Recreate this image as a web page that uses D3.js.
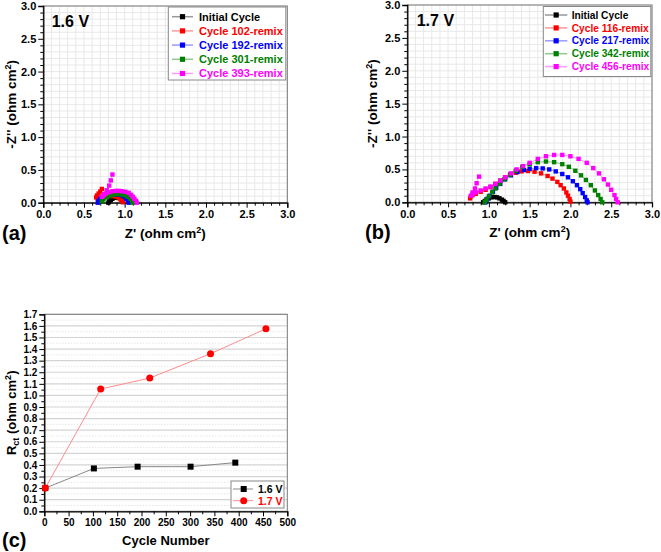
<!DOCTYPE html>
<html><head><meta charset="utf-8">
<script src="https://cdn.jsdelivr.net/npm/d3@7"></script>
<style>
html,body{margin:0;padding:0;background:#fff;}
text{font-family:"Liberation Sans",Arial,sans-serif;font-weight:bold;}
</style></head>
<body>
<svg id="c" width="661" height="552"></svg>
<script>
// ---------- DATA ----------
const colors = ["#000000","#ff0000","#0000ff","#008000","#ff00ff"];
const lineColors = ["#999999","#ff9a9a","#9a9aff","#8fc98f","#ff9aff"];

const namesA = ["Initial Cycle","Cycle 102-remix","Cycle 192-remix","Cycle 301-remix","Cycle 393-remix"];
const a_initial = [[0.80,0.0],[0.81,0.02],[0.83,0.04],[0.85,0.06],[0.88,0.075],[0.91,0.08],[0.94,0.07],[0.96,0.05],[0.97,0.03],[0.98,0.01]];
const a_c102 = [[0.72,0.21],[0.70,0.17],[0.68,0.14],[0.66,0.11],[0.65,0.08],[0.67,0.06],[0.70,0.07],[0.74,0.09],[0.78,0.10],[0.82,0.105],[0.86,0.10],[0.90,0.09],[0.93,0.07],[0.95,0.05],[0.97,0.03],[0.98,0.01]];
const a_c192 = [[0.67,0.0],[0.68,0.03],[0.70,0.06],[0.73,0.08],[0.77,0.10],[0.81,0.115],[0.85,0.12],[0.89,0.125],[0.93,0.12],[0.97,0.11],[1.00,0.09],[1.02,0.06],[1.04,0.03],[1.05,0.0]];
const a_c301 = [[0.72,0.02],[0.74,0.05],[0.77,0.08],[0.81,0.10],[0.85,0.12],[0.89,0.13],[0.93,0.13],[0.97,0.125],[1.01,0.11],[1.04,0.09],[1.07,0.06],[1.09,0.03],[1.10,0.0]];
const a_c393 = [[0.85,0.43],[0.83,0.34],[0.81,0.26],[0.78,0.19],[0.75,0.13],[0.72,0.09],[0.74,0.11],[0.77,0.14],[0.81,0.16],[0.85,0.175],[0.89,0.18],[0.93,0.18],[0.97,0.175],[1.01,0.165],[1.05,0.15],[1.08,0.12],[1.10,0.09],[1.12,0.06],[1.14,0.03],[1.15,0.0]];

const namesB = ["Initial Cycle","Cycle 116-remix","Cycle 217-remix","Cycle 342-remix","Cycle 456-remix"];
const b_initial = [[0.93,0.0],[0.95,0.02],[0.97,0.04],[1.00,0.06],[1.03,0.075],[1.07,0.08],[1.10,0.075],[1.13,0.06],[1.16,0.04],[1.18,0.02],[1.20,0.0]];
const b_c116 = [[0.77,0.06],[0.78,0.09],[0.80,0.11],[0.84,0.13],[0.90,0.16],[0.96,0.19],[1.02,0.23],[1.08,0.28],[1.14,0.33],[1.20,0.38],[1.26,0.42],[1.33,0.45],[1.40,0.47],[1.48,0.475],[1.56,0.465],[1.64,0.44],[1.72,0.40],[1.78,0.36],[1.84,0.31],[1.88,0.26],[1.92,0.21],[1.95,0.15],[1.97,0.10],[1.99,0.05],[2.00,0.01]];
const b_c217 = [[0.96,0.0],[0.98,0.05],[1.01,0.10],[1.05,0.16],[1.09,0.22],[1.14,0.28],[1.20,0.35],[1.27,0.41],[1.35,0.46],[1.43,0.49],[1.50,0.51],[1.58,0.52],[1.66,0.515],[1.74,0.50],[1.82,0.47],[1.90,0.43],[1.97,0.38],[2.03,0.32],[2.08,0.26],[2.12,0.20],[2.15,0.14],[2.18,0.08],[2.20,0.03],[2.21,0.0]];
const b_c342 = [[0.95,0.0],[0.97,0.04],[1.00,0.09],[1.04,0.15],[1.08,0.21],[1.13,0.28],[1.19,0.35],[1.26,0.42],[1.33,0.48],[1.41,0.54],[1.50,0.58],[1.60,0.61],[1.70,0.62],[1.80,0.61],[1.90,0.58],[1.98,0.54],[2.06,0.48],[2.13,0.41],[2.19,0.34],[2.25,0.26],[2.30,0.18],[2.34,0.11],[2.37,0.05],[2.39,0.0]];
const b_c456 = [[0.88,0.39],[0.85,0.29],[0.83,0.21],[0.80,0.15],[0.78,0.10],[0.80,0.12],[0.84,0.15],[0.90,0.18],[0.96,0.21],[1.02,0.24],[1.08,0.28],[1.14,0.33],[1.20,0.38],[1.27,0.44],[1.34,0.50],[1.42,0.55],[1.50,0.60],[1.60,0.66],[1.70,0.70],[1.80,0.72],[1.90,0.72],[2.00,0.70],[2.10,0.66],[2.20,0.60],[2.28,0.52],[2.35,0.44],[2.41,0.35],[2.46,0.27],[2.50,0.19],[2.54,0.11],[2.56,0.05],[2.58,0.0]];

const zTicks = [0,0.5,1.0,1.5,2.0,2.5,3.0];

const cycles16 = [2,102,192,301,393];
const rct16 = [0.20,0.37,0.385,0.385,0.42];
const cycles17 = [2,116,217,342,456];
const rct17 = [0.20,1.055,1.15,1.36,1.575];
const cycleTicks = [0,50,100,150,200,250,300,350,400,450,500];
const rctTicks = d3.range(0,18).map(i=>i/10);

// ---------- DRAW ----------
const svg = d3.select("#c");

function impedancePanel(opt){
  const g = svg.append("g");
  const x = d3.scaleLinear().domain([0,3]).range([opt.x0,opt.x1]);
  const y = d3.scaleLinear().domain([0,3]).range([opt.yb,opt.yt]);
  const minor = d3.range(0,31).map(i=>i/10);
  g.append("g").selectAll("line").data(minor).join("line")
    .attr("x1",d=>x(d)).attr("x2",d=>x(d)).attr("y1",opt.yt).attr("y2",opt.yb)
    .attr("stroke","#e8e8e8").attr("stroke-width",1);
  g.append("g").selectAll("line").data(minor).join("line")
    .attr("y1",d=>y(d)).attr("y2",d=>y(d)).attr("x1",opt.x0).attr("x2",opt.x1)
    .attr("stroke","#e8e8e8").attr("stroke-width",1);
  g.append("rect").attr("x",opt.x0).attr("y",opt.yt).attr("width",opt.x1-opt.x0).attr("height",opt.yb-opt.yt)
    .attr("fill","none").attr("stroke","#777").attr("stroke-width",1);
  g.append("g").attr("transform",`translate(0,${opt.yb})`)
    .call(d3.axisBottom(x).tickValues(zTicks).tickFormat(d3.format(".1f")).tickSizeOuter(0).tickSize(5).tickPadding(3));
  g.append("g").attr("transform",`translate(0,${opt.yb})`)
    .call(d3.axisBottom(x).tickValues(minor.filter(d=>Math.round(d*10)%5!==0)).tickFormat("").tickSizeOuter(0).tickSize(3))
    .select(".domain").remove();
  g.append("g").attr("transform",`translate(${opt.x0},0)`)
    .call(d3.axisLeft(y).tickValues(zTicks).tickFormat(d3.format(".1f")).tickSizeOuter(0).tickSize(5).tickPadding(2));
  g.append("g").attr("transform",`translate(${opt.x0},0)`)
    .call(d3.axisLeft(y).tickValues(minor.filter(d=>Math.round(d*10)%5!==0)).tickFormat("").tickSizeOuter(0).tickSize(3))
    .select(".domain").remove();
  g.selectAll(".domain").attr("stroke","#000").attr("stroke-width",1.3);
  g.selectAll(".tick line").attr("stroke","#000");
  g.selectAll(".tick text").attr("font-size","11px").attr("font-weight","bold").attr("fill","#000")
    .attr("font-family","Liberation Sans, Arial, sans-serif");
  const line = d3.line().x(d=>x(d[0])).y(d=>y(d[1]));
  opt.series.forEach((s,i)=>{
    g.append("path").attr("d",line(s)).attr("fill","none").attr("stroke",lineColors[i]).attr("stroke-width",1);
  });
  opt.series.forEach((s,i)=>{
    g.append("g").selectAll("rect").data(s).join("rect")
      .attr("x",d=>x(d[0])-2.2).attr("y",d=>y(d[1])-2.2).attr("width",4.4).attr("height",4.4)
      .attr("fill",colors[i]);
  });
  const L = opt.legend;
  g.append("rect").attr("x",L.x).attr("y",L.y).attr("width",L.w).attr("height",L.h)
    .attr("fill","#fff").attr("stroke","#888").attr("stroke-width",1);
  opt.names.forEach((n,i)=>{
    const cy = L.y0 + i*L.dy;
    g.append("line").attr("x1",L.lx0).attr("x2",L.lx1).attr("y1",cy).attr("y2",cy)
      .attr("stroke",lineColors[i]).attr("stroke-width",1.5);
    g.append("rect").attr("x",(L.lx0+L.lx1)/2-2.6).attr("y",cy-2.6).attr("width",5.2).attr("height",5.2).attr("fill",colors[i]);
    g.append("text").attr("x",L.tx).attr("y",cy+L.fs*0.36).attr("font-size",L.fs+"px").attr("fill",colors[i]).text(n);
  });
  g.append("text").attr("x",opt.vx).attr("y",opt.vy).attr("font-size","16px").text(opt.vlabel);
  const xt = g.append("text").attr("x",(opt.x0+opt.x1)/2).attr("y",opt.yb+35).attr("text-anchor","middle").attr("font-size","13.5px");
  xt.append("tspan").text("Z' (ohm cm");
  xt.append("tspan").attr("font-size","9px").attr("dy",-5).text("2");
  xt.append("tspan").attr("dy",5).text(")");
  const yt = g.append("text").attr("transform",`translate(${opt.ytx},${(opt.yt+opt.yb)/2}) rotate(-90)`)
    .attr("text-anchor","middle").attr("font-size","13.5px");
  yt.append("tspan").text("-Z'' (ohm cm");
  yt.append("tspan").attr("font-size","9px").attr("dy",-5).text("2");
  yt.append("tspan").attr("dy",5).text(")");
  g.append("text").attr("x",opt.px).attr("y",opt.yb+37).attr("font-size","20px").text(opt.plabel);
}

impedancePanel({x0:43.3,x1:287.3,yt:6,yb:202.7,series:[a_initial,a_c102,a_c192,a_c301,a_c393],names:namesA,
  legend:{x:168.3,y:7,w:117.5,h:73,y0:16.7,dy:14.2,lx0:172,lx1:193,tx:199,fs:11},
  vx:51.7,vy:27.3,vlabel:"1.6 V",ytx:15.5,px:2,plabel:"(a)"});
impedancePanel({x0:407.3,x1:652,yt:5,yb:202.3,series:[b_initial,b_c116,b_c217,b_c342,b_c456],names:namesB,
  legend:{x:543.3,y:6.5,w:107.5,h:70,y0:15,dy:12.9,lx0:545,lx1:567.3,tx:571.7,fs:10.2},
  vx:416.7,vy:26,vlabel:"1.7 V",ytx:377,px:365,plabel:"(b)"});

// ---------- Panel (c) ----------
(function(){
  const x0=44.3,x1=287.3,yt=314.3,yb=511.3;
  const g = svg.append("g");
  const x = d3.scaleLinear().domain([0,500]).range([x0,x1]);
  const y = d3.scaleLinear().domain([0,1.7]).range([yb,yt]);
  const minorY = d3.range(0,35).map(i=>i*0.05).filter(d=>d<=1.7+1e-9);
  g.append("g").selectAll("line").data(minorY.filter((d,i)=>i%2===1)).join("line")
    .attr("x1",x0).attr("x2",x1).attr("y1",d=>y(d)).attr("y2",d=>y(d))
    .attr("stroke","#dcdcdc").attr("stroke-dasharray","1,2");
  g.append("g").selectAll("line").data(rctTicks.slice(1)).join("line")
    .attr("x1",x0).attr("x2",x1).attr("y1",d=>y(d)).attr("y2",d=>y(d))
    .attr("stroke","#d4d4d4").attr("stroke-width",1.2);
  g.append("rect").attr("x",x0).attr("y",yt).attr("width",x1-x0).attr("height",yb-yt)
    .attr("fill","none").attr("stroke","#777");
  g.append("g").attr("transform",`translate(0,${yb})`)
    .call(d3.axisBottom(x).tickValues(cycleTicks).tickFormat(d3.format("d")).tickSizeOuter(0).tickSize(5).tickPadding(3));
  g.append("g").attr("transform",`translate(0,${yb})`)
    .call(d3.axisBottom(x).tickValues(cycleTicks.slice(0,-1).map(d=>d+25)).tickFormat("").tickSizeOuter(0).tickSize(3))
    .select(".domain").remove();
  g.append("g").attr("transform",`translate(${x0},0)`)
    .call(d3.axisLeft(y).tickValues(rctTicks).tickFormat(d3.format(".1f")).tickSizeOuter(0).tickSize(5).tickPadding(2));
  g.append("g").attr("transform",`translate(${x0},0)`)
    .call(d3.axisLeft(y).tickValues(rctTicks.slice(0,-1).map(d=>d+0.05)).tickFormat("").tickSizeOuter(0).tickSize(3))
    .select(".domain").remove();
  g.selectAll(".domain").attr("stroke","#000").attr("stroke-width",1.3);
  g.selectAll(".tick line").attr("stroke","#000");
  g.selectAll(".tick text").attr("font-size","10px").attr("font-weight","bold").attr("fill","#000")
    .attr("font-family","Liberation Sans, Arial, sans-serif");

  const s16 = cycles16.map((c,i)=>[c,rct16[i]]);
  const s17 = cycles17.map((c,i)=>[c,rct17[i]]);
  const line = d3.line().x(d=>x(d[0])).y(d=>y(d[1]));
  g.append("path").attr("d",line(s16)).attr("fill","none").attr("stroke","#888").attr("stroke-width",1);
  g.append("path").attr("d",line(s17)).attr("fill","none").attr("stroke","#ff8c8c").attr("stroke-width",1);
  g.append("g").selectAll("rect").data(s16).join("rect")
    .attr("x",d=>x(d[0])-3).attr("y",d=>y(d[1])-3).attr("width",6).attr("height",6).attr("fill","#000");
  g.append("g").selectAll("circle").data(s17).join("circle")
    .attr("cx",d=>x(d[0])).attr("cy",d=>y(d[1])).attr("r",3.5).attr("fill","#ff0000");
  g.append("rect").attr("x",231).attr("y",481).attr("width",53).attr("height",27).attr("fill","#fff").attr("stroke","#888");
  const labs=["1.6 V","1.7 V"];
  [489,500.7].forEach((cy,i)=>{
    g.append("line").attr("x1",233).attr("x2",253).attr("y1",cy).attr("y2",cy).attr("stroke",i?"#ff8c8c":"#888");
    if(i===0) g.append("rect").attr("x",243.7-3).attr("y",cy-3).attr("width",6).attr("height",6).attr("fill","#000");
    else g.append("circle").attr("cx",243.7).attr("cy",cy).attr("r",3.5).attr("fill","#ff0000");
    g.append("text").attr("x",258).attr("y",cy+3.9).attr("font-size","10.5px").attr("fill",i?"#ff0000":"#000").text(labs[i]);
  });
  g.append("text").attr("x",(x0+x1)/2).attr("y",545).attr("text-anchor","middle").attr("font-size","13px").text("Cycle Number");
  const yt2 = g.append("text").attr("transform",`translate(15.5,${(yt+yb)/2}) rotate(-90)`)
    .attr("text-anchor","middle").attr("font-size","13px");
  yt2.append("tspan").text("R");
  yt2.append("tspan").attr("font-size","9px").attr("dy",3).text("ct");
  yt2.append("tspan").attr("dy",-3).text(" (ohm cm");
  yt2.append("tspan").attr("font-size","9px").attr("dy",-5).text("2");
  yt2.append("tspan").attr("dy",5).text(")");
  g.append("text").attr("x",2).attr("y",546.7).attr("font-size","20px").text("(c)");
})();
</script>
</body></html>
